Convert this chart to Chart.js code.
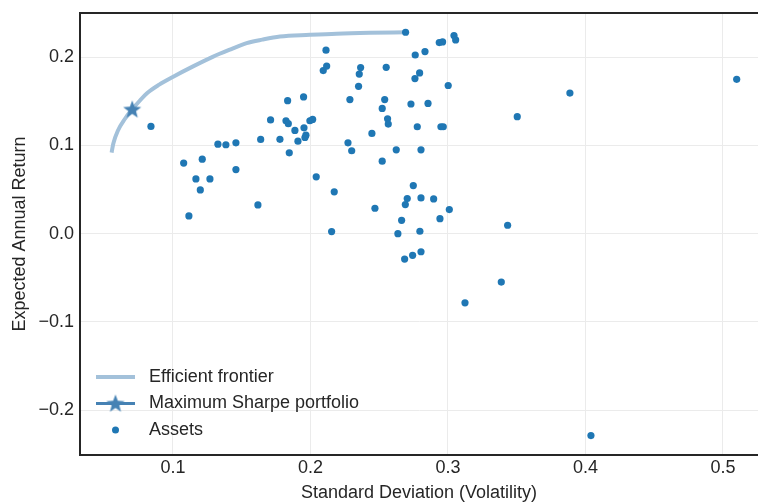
<!DOCTYPE html>
<html>
<head>
<meta charset="utf-8">
<script src="https://cdn.jsdelivr.net/npm/chart.js@4/dist/chart.umd.min.js"></script>
<style>
  html, body { margin: 0; padding: 0; background: #ffffff; overflow: hidden; }
  #wrap { width: 758px; height: 504px; position: relative; }
</style>
</head>
<body>
<div id="wrap"><canvas id="c"></canvas></div>
<script>
// ---- data ----
const assetVol = [0.2692,0.3044,0.3056,0.2113,0.2937,0.2961,0.2762,0.2833,0.2118,0.2093,
  0.2365,0.2355,0.2551,0.2794,0.2760,0.2350,0.3002,0.1950,0.1834,0.2287,
  0.2540,0.2522,0.2731,0.2855,0.1710,0.1822,0.1839,0.1887,0.1953,0.1996,
  0.2016,0.1967,0.1960,0.1778,0.1909,0.2273,0.2447,0.2561,0.2566,0.2777,
  0.2949,0.2966,0.3887,0.3504,0.5100,0.3010,0.2942,0.3434,0.3388,0.3124,
  0.4040,0.0840,0.1327,0.1385,0.1458,0.1638,0.1078,0.1213,0.1167,0.1269,
  0.1199,0.1458,0.1618,0.1116,0.1846,0.2300,0.2624,0.2804,0.2522,0.2042,
  0.2173,0.2748,0.2704,0.2690,0.2804,0.2896,0.2469,0.2663,0.2154,0.2636,
  0.2796,0.2685,0.2743,0.2804];
const assetRet = [0.2284,0.2246,0.2197,0.2080,0.2167,0.2174,0.2026,0.2065,0.1900,0.1849,
  0.1883,0.1810,0.1886,0.1822,0.1758,0.1670,0.1680,0.1550,0.1508,0.1520,
  0.1520,0.1420,0.1470,0.1477,0.1290,0.1280,0.1247,0.1170,0.1200,0.1280,
  0.1295,0.1117,0.1090,0.1070,0.1049,0.1030,0.1136,0.1303,0.1242,0.1212,
  0.1212,0.1212,0.1594,0.1326,0.1750,0.0273,0.0170,0.0095,-0.0549,-0.0784,
  -0.2290,0.1216,0.1015,0.1008,0.1030,0.1068,0.0800,0.0845,0.0621,0.0621,
  0.0496,0.0727,0.0326,0.0201,0.0917,0.0940,0.0951,0.0951,0.0822,0.0644,
  0.0474,0.0545,0.0398,0.0330,0.0405,0.0394,0.0288,0.0151,0.0023,0.0000,
  0.0027,-0.0288,-0.0246,-0.0205];
const frontierVol = [0.0554,0.0566,0.0600,0.0650,0.0704,0.0760,0.0809,0.0900,0.1002,0.1150,
  0.1293,0.1420,0.1536,0.1650,0.1778,0.1996,0.2190,0.2433,0.2692];
const frontierRet = [0.0920,0.1020,0.1170,0.1300,0.1410,0.1510,0.1590,0.1690,0.1780,0.1900,
  0.2008,0.2090,0.2160,0.2200,0.2235,0.2254,0.2268,0.2278,0.2284];
const maxSharpeVol = [0.0704];
const maxSharpeRet = [0.1409];
const xTickValues = [0.1,0.2,0.3,0.4,0.5];
const xTickLabels = ['0.1','0.2','0.3','0.4','0.5'];
const yTickValues = [-0.2,-0.1,0.0,0.1,0.2];
const yTickLabels = ['\u22120.2','\u22120.1','0.0','0.1','0.2'];
const seriesNames = ['Efficient frontier','Maximum Sharpe portfolio','Assets'];
const xTitle = 'Standard Deviation (Volatility)';
const yTitle = 'Expected Annual Return';

// ---- styling ----
const FONT = '"Liberation Sans", Arial, Helvetica, sans-serif';
const FS = 18;
const TEXT = '#262626';
const FRONTIER_C = '#a3c1da';
const STAR_C = '#4682b4';
const DOT_C = '#1f77b4';

function makeStar(size, color) {
  const cv = document.createElement('canvas');
  cv.width = size; cv.height = size;
  const g = cv.getContext('2d');
  const cx = size / 2, cy = size / 2, R = size / 2 - 0.5, r = R * 0.42;
  g.beginPath();
  for (let i = 0; i < 10; i++) {
    const rad = i % 2 === 0 ? R : r;
    const a = -Math.PI / 2 + i * Math.PI / 5;
    const px = cx + rad * Math.cos(a), py = cy + rad * Math.sin(a) + size * 0.03;
    if (i === 0) g.moveTo(px, py); else g.lineTo(px, py);
  }
  g.closePath();
  g.fillStyle = color;
  g.fill();
  return cv;
}
const starImg = makeStar(20, STAR_C);

const zip = (xs, ys) => xs.map((x, i) => ({ x: x, y: ys[i] }));

const framePlugin = {
  id: 'frame',
  afterDraw(chart) {
    const { ctx, chartArea: a } = chart;
    ctx.save();
    ctx.strokeStyle = TEXT;
    ctx.lineWidth = 2;
    ctx.beginPath();
    ctx.moveTo(a.left - 1, a.top);
    ctx.lineTo(a.right, a.top);
    ctx.stroke();
    // legend
    const lx0 = a.left + 16, lx1 = a.left + 55, mx = (lx0 + lx1) / 2, tx = a.left + 69;
    const y0 = a.bottom - 78, dy = 26.5;
    ctx.lineCap = 'butt';
    ctx.strokeStyle = FRONTIER_C; ctx.lineWidth = 4;
    ctx.beginPath(); ctx.moveTo(lx0, y0); ctx.lineTo(lx1, y0); ctx.stroke();
    ctx.strokeStyle = STAR_C; ctx.lineWidth = 3;
    ctx.beginPath(); ctx.moveTo(lx0, y0 + dy); ctx.lineTo(lx1, y0 + dy); ctx.stroke();
    ctx.drawImage(starImg, mx - 10, y0 + dy - 10);
    ctx.fillStyle = DOT_C;
    ctx.beginPath(); ctx.arc(mx, y0 + 2 * dy, 3.5, 0, Math.PI * 2); ctx.fill();
    ctx.fillStyle = TEXT;
    ctx.font = FS + 'px ' + FONT;
    ctx.textBaseline = 'middle';
    ctx.textAlign = 'left';
    seriesNames.forEach((n, i) => ctx.fillText(n, tx, y0 + i * dy));
    ctx.restore();
  }
};

new Chart(document.getElementById('c'), {
  type: 'scatter',
  data: {
    datasets: [
      { label: seriesNames[0], data: zip(frontierVol, frontierRet), showLine: true,
        borderColor: FRONTIER_C, borderWidth: 4, pointRadius: 0, pointHoverRadius: 0,
        cubicInterpolationMode: 'monotone', order: 3 },
      { label: seriesNames[2], data: zip(assetVol, assetRet), showLine: false,
        backgroundColor: DOT_C, borderWidth: 0, pointRadius: 3.6, order: 2 },
      { label: seriesNames[1], data: zip(maxSharpeVol, maxSharpeRet), showLine: false,
        pointStyle: starImg, pointRadius: 10, order: 1 }
    ]
  },
  options: {
    responsive: true,
    maintainAspectRatio: false,
    animation: false,
    devicePixelRatio: 1,
    layout: { autoPadding: false, padding: { top: 13, right: 0, left: 0, bottom: 0 } },
    plugins: { legend: { display: false }, tooltip: { enabled: false } },
    scales: {
      x: {
        type: 'linear', min: 0.0324, max: 0.5255,
        afterBuildTicks(s) { s.ticks = xTickValues.map(v => ({ value: v })); },
        afterFit(s) { s.height = 49; s.paddingLeft = 0; s.paddingRight = 0; },
        ticks: { callback: (v) => xTickLabels[xTickValues.findIndex(t => Math.abs(t - v) < 1e-9)],
          color: TEXT, font: { family: FONT, size: FS }, padding: 2, maxRotation: 0 },
        grid: { color: '#ebebeb', lineWidth: 1, drawTicks: false },
        border: { display: true, color: TEXT, width: 2 },
        title: { display: true, text: xTitle, color: TEXT, font: { family: FONT, size: FS },
          padding: { top: 0, bottom: 0 } }
      },
      y: {
        type: 'linear', min: -0.251, max: 0.2502,
        afterBuildTicks(s) { s.ticks = yTickValues.map(v => ({ value: v })); },
        afterFit(s) { s.width = 80; s.paddingTop = 0; s.paddingBottom = 0; },
        ticks: { callback: (v) => yTickLabels[yTickValues.findIndex(t => Math.abs(t - v) < 1e-9)],
          color: TEXT, font: { family: FONT, size: FS }, padding: 6 },
        grid: { color: '#ebebeb', lineWidth: 1, drawTicks: false },
        border: { display: true, color: TEXT, width: 2 },
        title: { display: true, text: yTitle, color: TEXT, font: { family: FONT, size: FS },
          padding: { top: 9, bottom: 0 } }
      }
    }
  },
  plugins: [framePlugin]
});
</script>
</body>
</html>
